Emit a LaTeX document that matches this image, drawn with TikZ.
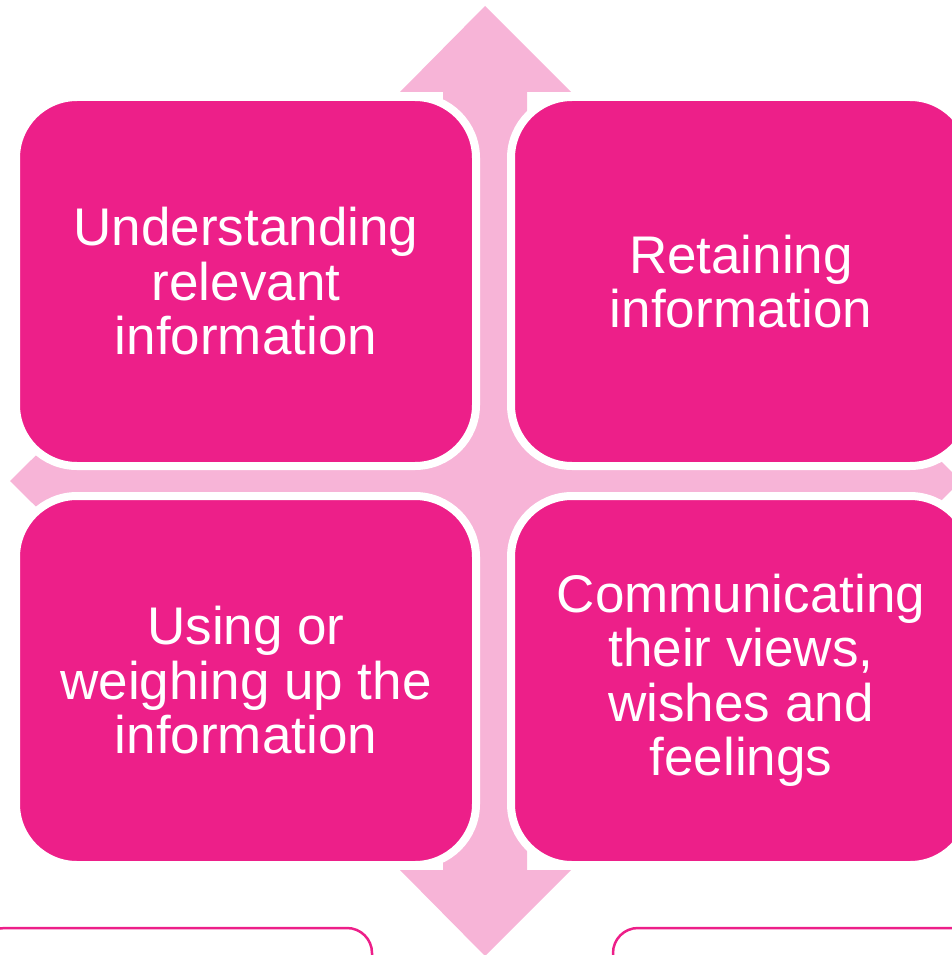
\documentclass[tikz,border=0pt]{standalone}
\usepackage{fontspec}
\setmainfont{Liberation Sans}
\definecolor{boxpink}{RGB}{237,31,137}
\definecolor{arrowpink}{RGB}{247,180,215}
\begin{document}
\begin{tikzpicture}[x=1pt,y=-1pt,
  bigbox/.style={fill=boxpink, draw=white, line width=8pt, rounded corners=61pt,
    minimum width=460pt, minimum height=369pt, inner sep=0pt,
    text=white, align=center, font=\fontsize{53}{54.5}\selectfont},
  outlinebox/.style={draw=boxpink, line width=2.5pt, rounded corners=25pt, fill=white}]
\useasboundingbox (0,0) rectangle (952,955);
\clip (0,0) rectangle (952,955);
% cross arrow
\fill[arrowpink] (485,6) -- (571,92) -- (527,92) -- (527,439)
  -- (875,439) -- (875,396) -- (961,481) -- (875,566) -- (875,523)
  -- (527,523) -- (527,870) -- (571,870) -- (485,956) -- (400,870)
  -- (443,870) -- (443,523) -- (96,523) -- (96,566) -- (10,481)
  -- (96,396) -- (96,439) -- (443,439) -- (443,92) -- (400,92) -- cycle;
% lower outlined boxes
\draw[outlinebox] (-20,928) rectangle (372,1000);
\draw[outlinebox] (613,928) rectangle (1000,1000);
% four boxes
\node[bigbox] (tl) at (246,281.5) {Understanding\\relevant\\information};
\node[bigbox] (tr) at (741,281.5) {Retaining\\information};
\node[bigbox] (bl) at (246,680.5) {Using or\\weighing up the\\information};
\node[bigbox] (br) at (741,680.5) {Communicating\\their views,\\wishes and\\feelings};
\end{tikzpicture}
\end{document}
